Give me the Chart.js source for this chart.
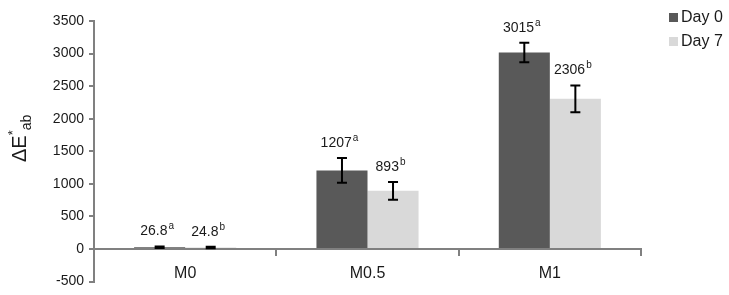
<!DOCTYPE html>
<html>
<head>
<meta charset="utf-8">
<script src="https://cdn.jsdelivr.net/npm/chart.js@4"></script>
<style>
  html, body { margin: 0; padding: 0; background: #fff; }
  #wrap { width: 729px; height: 295px; }
</style>
</head>
<body>
<div id="wrap"><canvas id="deChart"></canvas></div>
<script>
const categories = ['M0', 'M0.5', 'M1'];
const seriesNames = ['Day 0', 'Day 7'];
const day0 = [26.8, 1207, 3015];
const day7 = [24.8, 893, 2306];
const day0Err = [12, 190, 150];
const day7Err = [12, 135, 205];
const day0Letters = ['a', 'a', 'a'];
const day7Letters = ['b', 'b', 'b'];
const yTicks = [-500, 0, 500, 1000, 1500, 2000, 2500, 3000, 3500];

const FONT = '"Liberation Sans", Arial, sans-serif';
const colors = ['#595959', '#d9d9d9'];

// error bars + value labels with superscript letters
const barExtras = {
  id: 'barExtras',
  afterDatasetsDraw(chart) {
    const ctx = chart.ctx;
    const y = chart.scales.y;
    const errs = [day0Err, day7Err];
    const letters = [day0Letters, day7Letters];
    chart.data.datasets.forEach((ds, di) => {
      const meta = chart.getDatasetMeta(di);
      meta.data.forEach((bar, i) => {
        const v = ds.data[i];
        const e = errs[di][i];
        const yt = y.getPixelForValue(v + e);
        const yb = y.getPixelForValue(v - e);
        ctx.save();
        ctx.strokeStyle = '#000';
        ctx.lineWidth = 2;
        ctx.beginPath();
        ctx.moveTo(bar.x, yt); ctx.lineTo(bar.x, yb);
        ctx.moveTo(bar.x - 5, yt); ctx.lineTo(bar.x + 5, yt);
        ctx.moveTo(bar.x - 5, yb); ctx.lineTo(bar.x + 5, yb);
        ctx.stroke();

        const txt = String(v);
        const sup = letters[di][i];
        ctx.fillStyle = '#1a1a1a';
        ctx.font = '14px ' + FONT;
        const w1 = ctx.measureText(txt).width;
        ctx.font = '10px ' + FONT;
        const w2 = ctx.measureText(sup).width;
        const x0 = bar.x - 3 - (w1 + w2) / 2;
        const base = yt - 11;
        ctx.textBaseline = 'alphabetic';
        ctx.textAlign = 'left';
        ctx.font = '14px ' + FONT;
        ctx.fillText(txt, x0, base);
        ctx.font = '10px ' + FONT;
        ctx.fillText(sup, x0 + w1 + 1, base - 6);
        ctx.restore();
      });
    });
  }
};

// y axis title ΔE*ab and legend
const decorations = {
  id: 'decorations',
  afterDraw(chart) {
    const ctx = chart.ctx;
    ctx.save();
    ctx.translate(26, 162);
    ctx.rotate(-Math.PI / 2);
    ctx.fillStyle = '#1a1a1a';
    ctx.textAlign = 'left';
    ctx.textBaseline = 'alphabetic';
    ctx.font = '20px ' + FONT;
    ctx.fillText('ΔE', 0, 0);
    let x = ctx.measureText('ΔE').width;
    ctx.font = '13px ' + FONT;
    ctx.fillText('*', x, -9);
    x += ctx.measureText('*').width;
    ctx.font = '14px ' + FONT;
    ctx.fillText('ab', x, 5);
    ctx.restore();

    ctx.save();
    ctx.font = '16px ' + FONT;
    ctx.textBaseline = 'middle';
    ctx.textAlign = 'left';
    seriesNames.forEach((name, i) => {
      const cy = 17 + i * 24;
      ctx.fillStyle = colors[i];
      ctx.fillRect(669, cy - 4, 9, 9);
      ctx.fillStyle = '#1a1a1a';
      ctx.fillText(name, 681, cy + 1);
    });
    ctx.restore();
  }
};

new Chart(document.getElementById('deChart'), {
  type: 'bar',
  data: {
    labels: categories,
    datasets: [
      { label: seriesNames[0], data: day0, backgroundColor: colors[0] },
      { label: seriesNames[1], data: day7, backgroundColor: colors[1] }
    ]
  },
  options: {
    responsive: true,
    maintainAspectRatio: false,
    animation: false,
    layout: { padding: { left: 0, right: 88, top: 21, bottom: 13 } },
    datasets: { bar: { categoryPercentage: 0.56, barPercentage: 1 } },
    plugins: {
      legend: { display: false },
      tooltip: { enabled: false }
    },
    scales: {
      x: {
        position: { y: 0 },
        offset: true,
        grid: {
          offset: true, drawOnChartArea: false, drawTicks: true,
          tickLength: 6, color: '#808080', lineWidth: 2
        },
        border: { color: '#808080', width: 2 },
        ticks: { color: '#1a1a1a', font: { family: FONT, size: 16 }, padding: 9 }
      },
      y: {
        min: -500, max: 3500,
        afterBuildTicks: s => { s.ticks = yTicks.map(v => ({ value: v })); },
        afterFit: s => { s.width = 94; },
        grid: { drawOnChartArea: false, tickLength: 5, color: '#808080', lineWidth: 2 },
        border: { color: '#808080', width: 2 },
        ticks: {
          color: '#1a1a1a', font: { family: FONT, size: 14 }, padding: 5,
          callback: v => String(v)
        }
      }
    }
  },
  plugins: [barExtras, decorations]
});
</script>
</body>
</html>
